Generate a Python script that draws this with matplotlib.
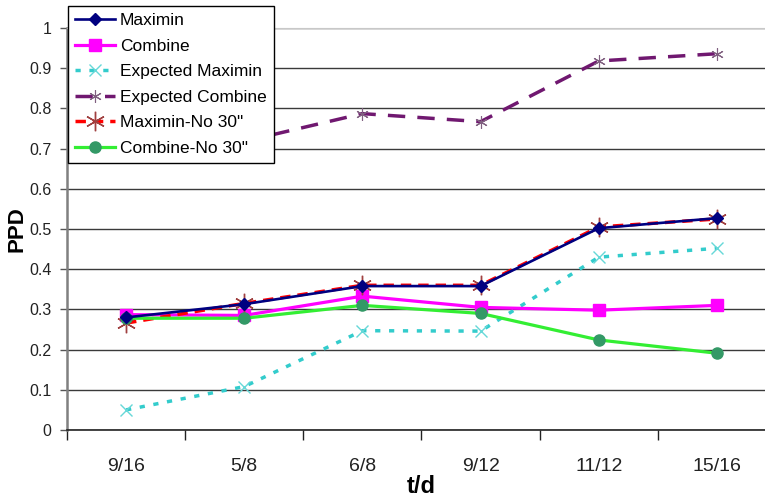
import matplotlib.pyplot as plt
from matplotlib.ticker import FixedLocator, NullFormatter

plt.rcParams['font.family'] = ['Liberation Sans', 'DejaVu Sans']

# PPD per t/d setting
categories = ['9/16', '5/8', '6/8', '9/12', '11/12', '15/16']
maximin = [0.280, 0.313, 0.358, 0.358, 0.502, 0.527]
combine = [0.287, 0.285, 0.333, 0.305, 0.298, 0.310]
expected_maximin = [0.050, 0.108, 0.247, 0.246, 0.430, 0.452]
expected_combine = [0.690, 0.718, 0.787, 0.767, 0.918, 0.936]
maximin_no30 = [0.266, 0.315, 0.360, 0.360, 0.505, 0.525]
combine_no30 = [0.278, 0.278, 0.310, 0.290, 0.224, 0.191]

asterisk = (6, 2, 0)
x = range(len(categories))

fig = plt.figure(figsize=(7.65, 4.99), dpi=100)
ax = fig.add_axes([67 / 765, 1 - 430 / 499, 709 / 765, 402 / 499])

ax.plot(x, expected_maximin, color='#33CCCC', lw=2.5, ls=(0, (1.5, 2.5)),
        marker='x', ms=8, mew=1.0, mec='#66D8D8', label='Expected Maximin', zorder=3)
ax.plot(x, expected_combine, color='#701870', lw=2.5, ls=(0, (5, 3.5)),
        marker=asterisk, ms=9, mew=0.8, mec='#806080', label='Expected Combine', zorder=3)
ax.plot(x, combine, color='#FF00FF', lw=2.3, marker='s', ms=8,
        mfc='#FF00FF', mec='#FF00FF', label='Combine', zorder=4)
ax.plot(x, maximin_no30, color='#FF0000', lw=2.5, ls=(0, (3, 2)),
        marker=asterisk, ms=14, mew=1.0, mec='#A04040', label='Maximin-No 30"', zorder=5)
ax.plot(x, combine_no30, color='#33EE33', lw=2.3, marker='o', ms=8,
        mfc='#339966', mec='#339966', label='Combine-No 30"', zorder=6)
ax.plot(x, maximin, color='#000080', lw=1.9, marker='D', ms=6,
        mfc='#000080', mec='#000080', label='Maximin', zorder=7)

ax.set_xlim(-0.5, len(categories) - 0.5)
ax.set_ylim(0, 1)
ax.set_yticks([i / 10 for i in range(11)])
ax.set_yticklabels(['0', '0.1', '0.2', '0.3', '0.4', '0.5', '0.6', '0.7', '0.8', '0.9', '1'])
ax.yaxis.grid(True, color='#3a3a3a', lw=1.0)
ax.set_axisbelow(True)

# category labels sit between the boundary ticks
ax.xaxis.set_major_locator(FixedLocator([i - 0.5 for i in range(len(categories) + 1)]))
ax.xaxis.set_major_formatter(NullFormatter())
ax.xaxis.set_minor_locator(FixedLocator(list(x)))
ax.set_xticklabels(categories, minor=True)
ax.tick_params(axis='x', which='major', length=7, width=1, color='#222222')
ax.tick_params(axis='x', which='minor', length=0, pad=20, labelsize=14, labelcolor='#222222')
ax.tick_params(axis='y', length=5, width=1, color='#555555', pad=6, labelsize=11.5,
               labelcolor='#222222')

ax.spines['left'].set_color('#808080')
ax.spines['left'].set_linewidth(1.8)
ax.spines['bottom'].set_color('#222222')
ax.spines['bottom'].set_linewidth(1.2)
ax.spines['top'].set_color('#c8c8c8')
ax.spines['right'].set_visible(False)

ax.set_xlabel('t/d', fontsize=17, fontweight='bold', labelpad=0)
ax.set_ylabel('PPD', fontsize=16, fontweight='bold', labelpad=1)

handles, labels = ax.get_legend_handles_labels()
order = ['Maximin', 'Combine', 'Expected Maximin', 'Expected Combine',
         'Maximin-No 30"', 'Combine-No 30"']
hmap = dict(zip(labels, handles))
leg = fig.legend([hmap[k] for k in order], order, loc='upper left',
                 bbox_to_anchor=(68 / 765, 1 - 6 / 499), borderaxespad=0,
                 fontsize=12.5, frameon=True, fancybox=False, numpoints=1,
                 handlelength=2.3, handletextpad=0.3, labelspacing=0.6,
                 borderpad=0.4)
leg.get_frame().set_edgecolor('black')
leg.get_frame().set_linewidth(1.0)
leg.get_frame().set_alpha(1)
leg.set_zorder(10)

fig.savefig('out.png', dpi=100)
